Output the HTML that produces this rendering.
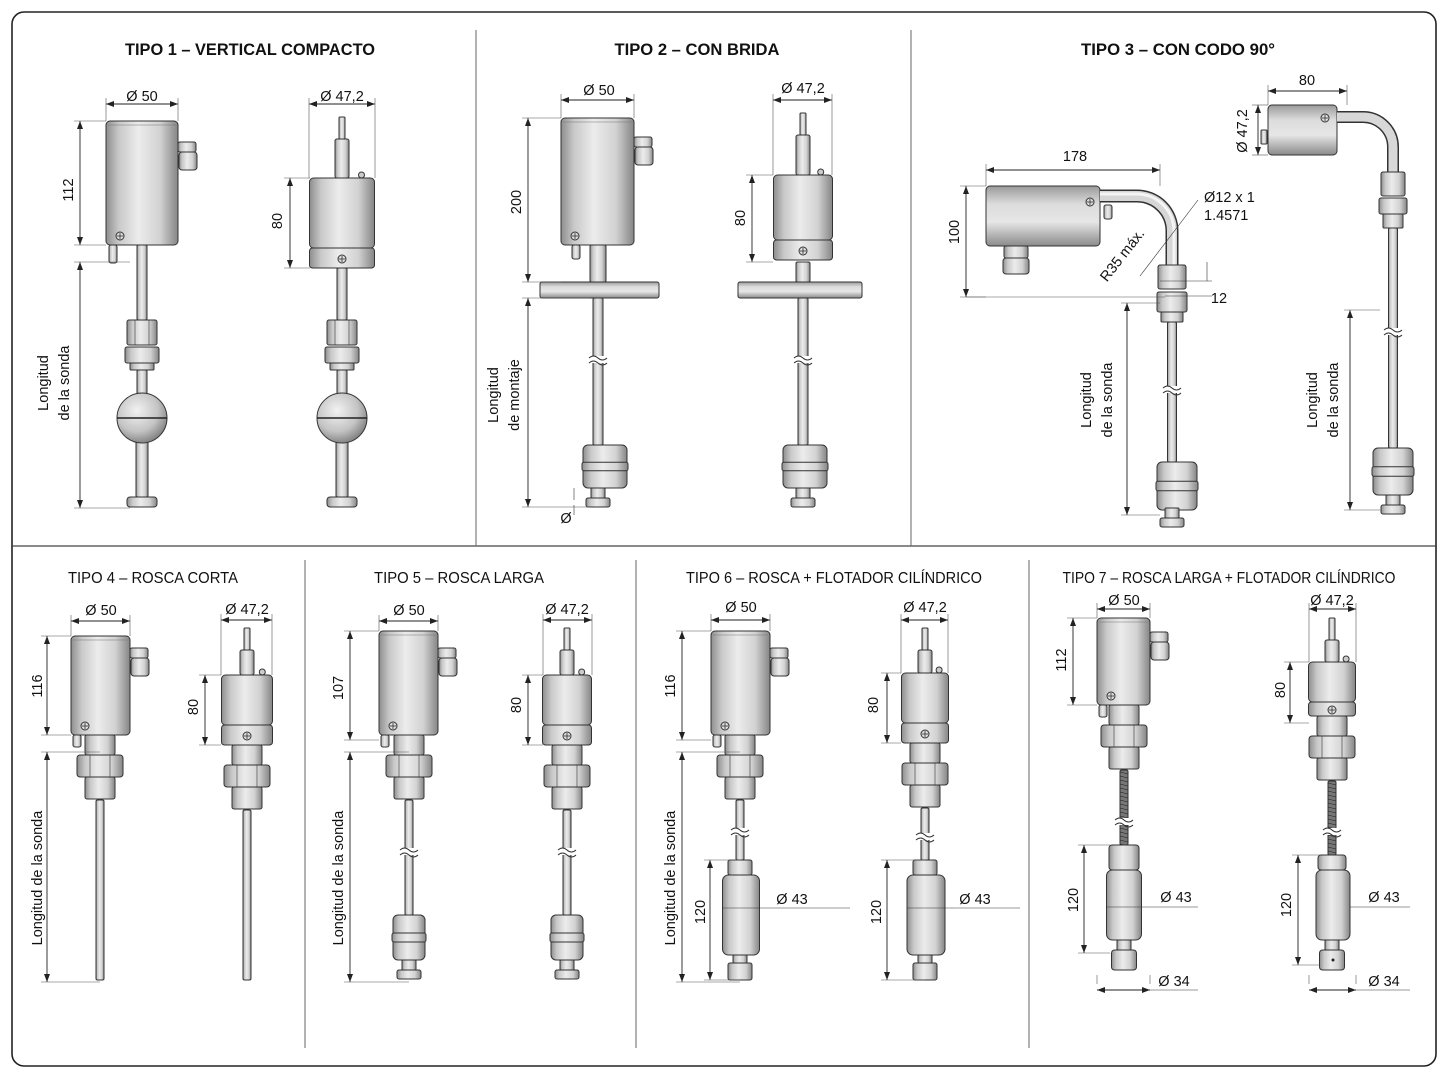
<!DOCTYPE html>
<html><head><meta charset="utf-8"><style>
html,body{margin:0;padding:0;background:#fff}
svg{display:block}
text{font-family:"Liberation Sans",sans-serif;fill:#111}
.t{font-family:"Liberation Sans",sans-serif;font-weight:bold;font-size:17px;text-anchor:middle}
.tb{font-family:"Liberation Sans",sans-serif;font-size:15.5px;text-anchor:middle}
.d{font-size:14.5px;text-anchor:middle}
</style></head><body>
<svg id="s" width="1448" height="1086" viewBox="0 0 1448 1086" xmlns="http://www.w3.org/2000/svg">
<defs>
<linearGradient id="m" x1="0" x2="1" y1="0" y2="0">
<stop offset="0" stop-color="#8e8e8e"/><stop offset="0.18" stop-color="#c9c9c9"/><stop offset="0.45" stop-color="#ececec"/><stop offset="0.75" stop-color="#d2d2d2"/><stop offset="1" stop-color="#858585"/></linearGradient>
<linearGradient id="mv" x1="0" x2="0" y1="0" y2="1">
<stop offset="0" stop-color="#9a9a9a"/><stop offset="0.3" stop-color="#dcdcdc"/><stop offset="0.6" stop-color="#e6e6e6"/><stop offset="1" stop-color="#8a8a8a"/></linearGradient>
<radialGradient id="b" cx="0.4" cy="0.35" r="0.7"><stop offset="0" stop-color="#f2f2f2"/><stop offset="0.6" stop-color="#c4c4c4"/><stop offset="1" stop-color="#7a7a7a"/></radialGradient>
<marker id="a" markerWidth="8" markerHeight="6" refX="8" refY="3" orient="auto-start-reverse" markerUnits="userSpaceOnUse"><path d="M0,0 L8,3 L0,6 z" fill="#222"/></marker>
</defs>
<rect x="12" y="12" width="1424" height="1054" rx="12" fill="#fff" stroke="#222" stroke-width="1.6"/>
<line x1="12" y1="546" x2="1436" y2="546" stroke="#444" stroke-width="1.2"/>
<line x1="476" y1="30" x2="476" y2="546" stroke="#666" stroke-width="1"/>
<line x1="911" y1="30" x2="911" y2="546" stroke="#666" stroke-width="1"/>
<line x1="305" y1="560" x2="305" y2="1048" stroke="#666" stroke-width="1"/>
<line x1="636" y1="560" x2="636" y2="1048" stroke="#666" stroke-width="1"/>
<line x1="1029" y1="560" x2="1029" y2="1048" stroke="#666" stroke-width="1"/>
<g id="g"></g>
<text class="t" x="250" y="55" textLength="250" lengthAdjust="spacingAndGlyphs">TIPO 1 – VERTICAL COMPACTO</text>
<text class="t" x="697" y="55" textLength="165" lengthAdjust="spacingAndGlyphs">TIPO 2 – CON BRIDA</text>
<text class="t" x="1178" y="55" textLength="194" lengthAdjust="spacingAndGlyphs">TIPO 3 – CON CODO 90°</text>
<text class="tb" x="153" y="583" textLength="170" lengthAdjust="spacingAndGlyphs">TIPO 4 – ROSCA CORTA</text>
<text class="tb" x="459" y="583" textLength="170" lengthAdjust="spacingAndGlyphs">TIPO 5 – ROSCA LARGA</text>
<text class="tb" x="834" y="583" textLength="296" lengthAdjust="spacingAndGlyphs">TIPO 6 – ROSCA + FLOTADOR CILÍNDRICO</text>
<text class="tb" x="1229" y="583" textLength="333" lengthAdjust="spacingAndGlyphs">TIPO 7 – ROSCA LARGA + FLOTADOR CILÍNDRICO</text>

<text class="d" x="142" y="101">Ø 50</text>
<text class="d" x="342" y="101">Ø 47,2</text>
<text class="d" transform="translate(73,190) rotate(-90)">112</text>
<text class="d" transform="translate(282,221) rotate(-90)">80</text>
<text class="d" transform="translate(48,383) rotate(-90)">Longitud</text>
<text class="d" transform="translate(69,383) rotate(-90)">de la sonda</text>

<text class="d" x="599" y="95">Ø 50</text>
<text class="d" x="803" y="93">Ø 47,2</text>
<text class="d" transform="translate(521,202) rotate(-90)">200</text>
<text class="d" transform="translate(745,218) rotate(-90)">80</text>
<text class="d" transform="translate(498,395) rotate(-90)">Longitud</text>
<text class="d" transform="translate(519,395) rotate(-90)">de montaje</text>
<text class="d" x="566" y="523">Ø</text>

<text class="d" x="1075" y="161">178</text>
<text class="d" transform="translate(959,232) rotate(-90)">100</text>
<text class="d" x="1204" y="202" style="text-anchor:start">Ø12 x 1</text>
<text class="d" x="1204" y="220" style="text-anchor:start">1.4571</text>
<text class="d" transform="translate(1126,258) rotate(-52)">R35 máx.</text>
<text class="d" x="1219" y="303">12</text>
<text class="d" x="1307" y="85">80</text>
<text class="d" transform="translate(1247,131) rotate(-90)">Ø 47,2</text>
<text class="d" transform="translate(1091,400) rotate(-90)">Longitud</text>
<text class="d" transform="translate(1112,400) rotate(-90)">de la sonda</text>
<text class="d" transform="translate(1317,400) rotate(-90)">Longitud</text>
<text class="d" transform="translate(1338,400) rotate(-90)">de la sonda</text>

<text class="d" x="101" y="615">Ø 50</text>
<text class="d" x="247" y="614">Ø 47,2</text>
<text class="d" transform="translate(42,686) rotate(-90)">116</text>
<text class="d" transform="translate(198,707) rotate(-90)">80</text>
<text class="d" transform="translate(42,878) rotate(-90)">Longitud de la sonda</text>

<text class="d" x="409" y="615">Ø 50</text>
<text class="d" x="567" y="614">Ø 47,2</text>
<text class="d" transform="translate(343,688) rotate(-90)">107</text>
<text class="d" transform="translate(521,705) rotate(-90)">80</text>
<text class="d" transform="translate(343,878) rotate(-90)">Longitud de la sonda</text>

<text class="d" x="741" y="612">Ø 50</text>
<text class="d" x="925" y="612">Ø 47,2</text>
<text class="d" transform="translate(675,686) rotate(-90)">116</text>
<text class="d" transform="translate(878,705) rotate(-90)">80</text>
<text class="d" transform="translate(675,878) rotate(-90)">Longitud de la sonda</text>
<text class="d" transform="translate(705,912) rotate(-90)">120</text>
<text class="d" transform="translate(881,912) rotate(-90)">120</text>
<text class="d" x="792" y="904">Ø 43</text>
<text class="d" x="975" y="904">Ø 43</text>

<text class="d" x="1124" y="605">Ø 50</text>
<text class="d" x="1332" y="605">Ø 47,2</text>
<text class="d" transform="translate(1066,660) rotate(-90)">112</text>
<text class="d" transform="translate(1285,690) rotate(-90)">80</text>
<text class="d" transform="translate(1078,900) rotate(-90)">120</text>
<text class="d" transform="translate(1291,905) rotate(-90)">120</text>
<text class="d" x="1176" y="902">Ø 43</text>
<text class="d" x="1384" y="902">Ø 43</text>
<text class="d" x="1174" y="986">Ø 34</text>
<text class="d" x="1384" y="986">Ø 34</text>
</svg>
<script>
const ns="http://www.w3.org/2000/svg",G=document.getElementById('g');
function el(t,a){const e=document.createElementNS(ns,t);for(const k in a)e.setAttribute(k,a[k]);G.appendChild(e);return e;}
function R(x,y,w,h,rx,f){el('rect',{x:x,y:y,width:w,height:h,rx:rx||1.5,fill:f||'url(#m)',stroke:'#333','stroke-width':1});}
function C(cx,y,w,h,rx,f){R(cx-w/2,y,w,h,rx,f);}
function L(x1,y1,x2,y2,w,c){el('line',{x1:x1,y1:y1,x2:x2,y2:y2,stroke:c||'#333','stroke-width':w||0.8});}
function A(x1,y1,x2,y2){el('line',{x1:x1,y1:y1,x2:x2,y2:y2,stroke:'#222','stroke-width':0.9,'marker-start':'url(#a)','marker-end':'url(#a)'});}
function dV(x,y1,y2,ox){A(x,y1,x,y2);if(ox!==undefined){L(x-6,y1,ox,y1,0.6,'#555');L(x-6,y2,ox,y2,0.6,'#555');}}
function dH(y,x1,x2,oy){A(x1,y,x2,y);if(oy!==undefined){L(x1,y-6,x1,oy,0.6,'#555');L(x2,y-6,x2,oy,0.6,'#555');}}
function screw(x,y){el('circle',{cx:x,cy:y,r:4,fill:'#ddd',stroke:'#333','stroke-width':1});L(x-3,y,x+3,y,0.8);L(x,y-3,x,y+3,0.8);}
function head(x,y,w,h,gl){R(x,y,w,h,4);L(x+2,y+4,x+w-2,y+4,0.6,'#777');if(gl){R(x+w,gl,18,10,2);R(x+w+1,gl+10,18,18,3);}screw(x+14,y+h-9);}
function sensor(cx,yt,yb,w,bh,bb){bb=bb||20;C(cx,yt,6,22,1);C(cx,yt+22,14,yb-yt-22,2);C(cx,yb+2,8,8,1);R(cx-w/2,yb,w,bh,4);R(cx-w/2,yb+bh,w,bb,3);screw(cx,yb+bh+bb/2+1);el('circle',{cx:cx+w*0.3,cy:yb-3,r:3,fill:'#ccc',stroke:'#333'});}
function rod(cx,y1,y2,w){C(cx,y1,w,y2-y1,0);}
function brk(cx,y,w){el('rect',{x:cx-w,y:y-2,width:2*w,height:7,fill:'#fff'});el('path',{d:`M${cx-w} ${y} q${w/2} -4 ${w} 0 t${w} 0 M${cx-w} ${y+5} q${w/2} -4 ${w} 0 t${w} 0`,fill:'none',stroke:'#333','stroke-width':1});}
function nutsA(cx,y){C(cx,y,30,25,2);L(cx-7,y,cx-7,y+25,0.6);L(cx+7,y,cx+7,y+25,0.6);C(cx,y+27,34,16,2);C(cx,y+43,24,7,1);}
function nutsB(cx,y){C(cx,y,30,20,2);C(cx,y+20,46,22,3);L(cx-10,y+20,cx-10,y+42,0.6);L(cx+10,y+20,cx+10,y+42,0.6);C(cx,y+42,30,22,2);}
function ball(cx,cy,r){el('circle',{cx:cx,cy:cy,r:r,fill:'url(#b)',stroke:'#333','stroke-width':1});L(cx-r,cy,cx+r,cy,1.4,'#222');}
function fl(cx,y,w,h){C(cx,y,w,h,5);C(cx,y+h*0.4,w+2,h*0.2,2);}
function foot(cx,y){C(cx,y,14,10,1);C(cx,y+10,24,9,2);}
// TIPO 1
head(106,121,72,124,142);C(113,245,8,18,2);
rod(142,245,320,10);nutsA(142,320);rod(142,370,395,10);rod(142,440,497,12);ball(142,418,25);C(142,497,30,10,3);
dH(104,106,178,121);dV(80,121,245,106);dV(80,262,508,130);
sensor(342,117,178,65,70);rod(342,268,320,10);nutsA(342,320);rod(342,370,395,10);rod(342,440,497,12);ball(342,418,25);C(342,497,30,10,3);
dH(104,309,375,178);dV(290,178,268,310);
// TIPO 2
head(561,118,73,127,137);C(576,245,8,14,2);rod(598,245,282,16);R(540,282,119,16,2,'url(#mv)');rod(598,298,445,10);brk(598,358,9);fl(605,445,44,43);foot(598,488);
dH(100,561,634,118);dV(528,118,282,561);dV(528,298,507,590);L(574,488,574,500,0.6);L(574,505,574,515,0.6);
sensor(803,113,175,59,65);rod(803,262,282,14);R(738,282,124,16,2,'url(#mv)');rod(803,298,445,10);brk(803,358,9);fl(805,445,44,43);foot(803,488);
dH(100,773,832,175);dV(752,175,262,773);
// TIPO 3
R(986,186,114,60,4,'url(#mv)');screw(1090,202);C(1016,246,24,12,2);C(1016,258,26,16,3);C(1108,205,8,14,2);
el('path',{d:'M1100 196 H1137 A35 35 0 0 1 1172 231 V268',fill:'none',stroke:'#333','stroke-width':13});
el('path',{d:'M1100 196 H1137 A35 35 0 0 1 1172 231 V268',fill:'none',stroke:'#d6d6d6','stroke-width':10});
el('path',{d:'M1100 194 H1137 A37 37 0 0 1 1174 231 V268',fill:'none',stroke:'#f4f4f4','stroke-width':3});
C(1172,265,28,24,2);C(1172,292,30,20,2);C(1172,312,22,10,1);rod(1172,322,462,9);brk(1172,388,9);fl(1177,462,40,48);foot(1172,508);
dH(170,986,1160,186);dV(966,186,297,986);L(966,297,1165,297,0.6,'#555');dV(1127,303,515,1160);
L(1140,276,1198,200,0.6);L(1160,281,1212,281,0.6);L(1165,296,1212,296,0.6);L(1207,262,1207,281,0.6);
R(1268,105,69,50,4,'url(#mv)');screw(1325,118);C(1264,130,6,14,1);
el('path',{d:'M1337 117 H1363 A30 30 0 0 1 1393 147 V175',fill:'none',stroke:'#333','stroke-width':12});
el('path',{d:'M1337 117 H1363 A30 30 0 0 1 1393 147 V175',fill:'none',stroke:'#d8d8d8','stroke-width':9});
C(1393,172,24,24,2);C(1393,198,28,16,2);C(1393,214,20,14,1);rod(1393,228,448,9);brk(1393,330,9);fl(1393,448,40,47);foot(1393,495);
dH(91,1268,1347,105);dV(1258,105,155,1268);dV(1350,310,510,1380);
// TIPO 4
head(71,636,59,99,648);C(77,735,8,12,2);nutsB(100,735);rod(100,800,980,8);
dH(621,71,130,636);dV(47,636,735,71);dV(47,752,982,100);
sensor(247,628,675,51,50);nutsB(247,745);rod(247,810,980,8);
dH(620,221,272,675);dV(205,675,745,221);
// TIPO 5
head(379,631,59,104,648);C(385,735,8,12,2);nutsB(409,735);rod(409,800,915,8);brk(409,850,9);fl(409,915,32,45);foot(409,960);
dH(621,379,438,631);dV(350,631,740,379);dV(350,752,982,409);
sensor(567,628,675,49,50);nutsB(567,745);rod(567,810,915,8);brk(567,850,9);fl(567,915,32,45);foot(567,960);
dH(620,543,592,675);dV(528,675,745,543);
// TIPO 6
head(711,631,59,104,648);C(717,735,8,12,2);nutsB(740,735);rod(740,800,860,8);brk(740,830,9);C(740,860,24,15,2);C(741,875,37,80,6);C(740,955,14,8,1);C(740,963,24,17,2);
dH(620,711,770,631);dV(682,631,740,711);dV(682,752,982,740);dV(710,860,980,740);L(723,908,850,908,0.6);
sensor(925,628,673,47,50);nutsB(925,743);rod(925,808,860,8);brk(925,835,9);C(925,860,24,15,2);C(926,875,38,80,6);C(925,955,14,8,1);C(925,963,24,17,2);
dH(620,901,948,673);dV(887,673,743,901);dV(887,860,980,925);L(907,908,1020,908,0.6);
// TIPO 7
head(1097,618,53,87,632);C(1103,705,8,12,2);nutsB(1124,705);
R(1120,770,8,75,0,'#777');for(let y=772;y<845;y+=4)L(1120,y,1128,y+2,0.6,'#222');brk(1124,820,9);
C(1124,845,30,25,3);C(1124,870,35,70,6);C(1124,940,14,10,1);C(1124,950,25,20,3);
dH(609,1097,1150,618);dV(1073,618,705,1097);dV(1084,845,953,1110);L(1107,907,1198,907,0.6);dH(990,1097,1150,975);L(1150,990,1198,990,0.6);
sensor(1332,618,662,47,40,14);nutsB(1332,716);
R(1328,781,8,74,0,'#777');for(let y=783;y<855;y+=4)L(1328,y,1336,y+2,0.6,'#222');brk(1332,830,9);
C(1332,855,28,15,3);C(1333,870,34,70,6);C(1332,940,14,10,1);C(1332,950,25,20,3);el('circle',{cx:1333,cy:960,r:1.5,fill:'#222'});
dH(609,1309,1356,662);dV(1290,662,723,1309);dV(1298,855,965,1320);L(1350,907,1410,907,0.6);dH(990,1309,1356,975);L(1356,990,1410,990,0.6);
</script>
</body></html>
